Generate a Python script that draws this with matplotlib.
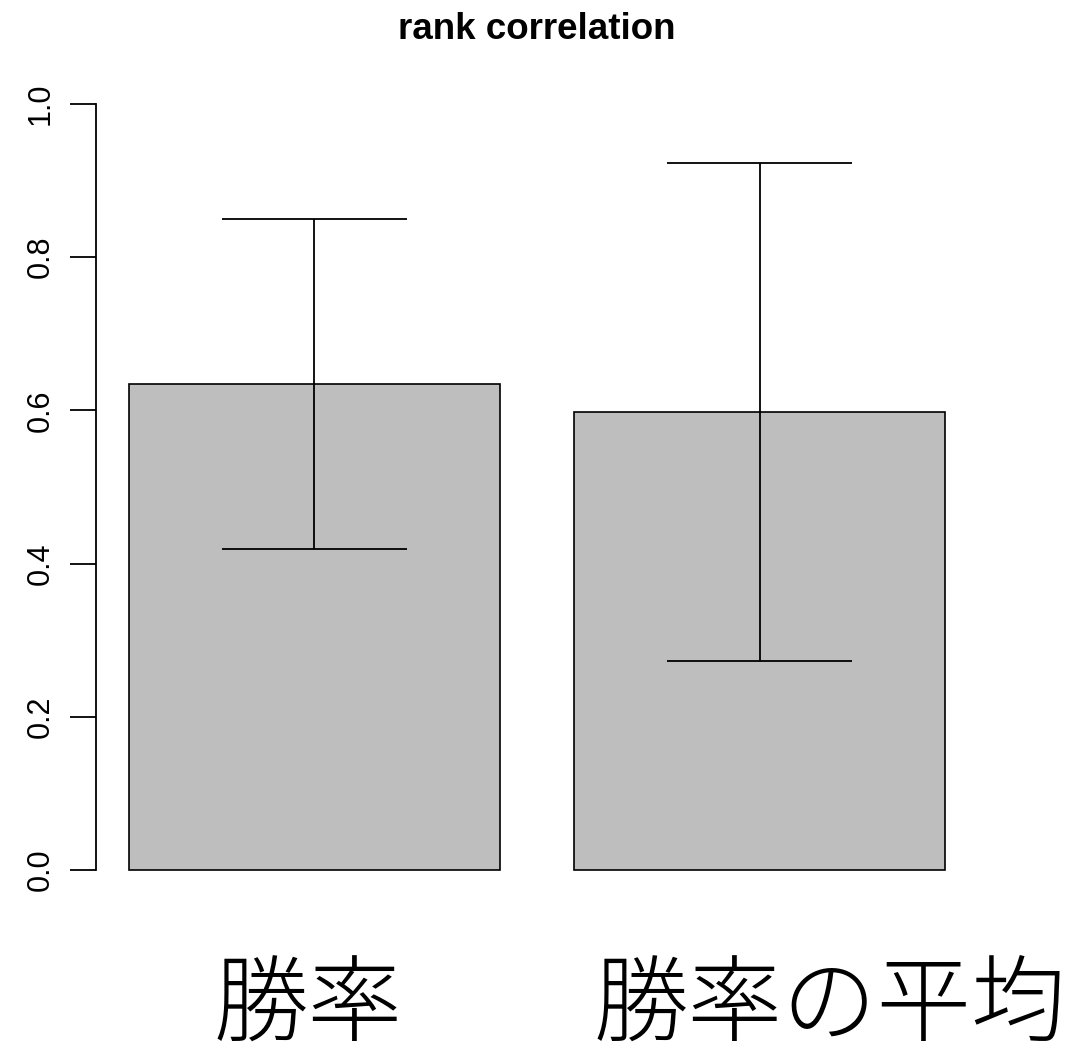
import numpy as np
import matplotlib.pyplot as plt
import matplotlib.transforms as mtransforms

plt.rcParams['font.family'] = ['Liberation Sans', 'Noto Sans CJK JP', 'DejaVu Sans']

labels = ['勝率', '勝率の平均']
means = [0.634, 0.598]
upper = [0.850, 0.923]
lower = [0.419, 0.273]
yticks = [0.0, 0.2, 0.4, 0.6, 0.8, 1.0]

# barplot layout: width 1, space 0.2
centers = np.array([0.7, 1.9])
width = 1.0

fig = plt.figure(figsize=(10.77, 10.48), dpi=100)
ax = fig.add_axes([0.0895, 0.1406, 0.8182, 0.7894])

ax.bar(centers, means, width=width, color='#bebebe', edgecolor='black', linewidth=1.2)
ax.vlines(centers, lower, upper, color='black', linewidth=1.3)
cap = 0.25
ax.hlines(upper, centers - cap, centers + cap, color='black', linewidth=1.3)
ax.hlines(lower, centers - cap, centers + cap, color='black', linewidth=1.3)

ax.set_xlim(0.112, 2.488)
ax.set_ylim(-0.04, 1.04)

for s in ['top', 'right', 'bottom']:
    ax.spines[s].set_visible(False)
ax.spines['left'].set_bounds(0, 1)
ax.spines['left'].set_linewidth(1.3)

ax.set_yticks(yticks)
ax.set_yticklabels(['%.1f' % t for t in yticks], rotation=90, va='center', fontsize=22)
ax.tick_params(axis='y', length=19, width=1.3, pad=10)

ax.set_xticks(centers)
ax.set_xticklabels(labels, fontsize=68, family='Noto Sans CJK JP', fontweight='light')
ax.tick_params(axis='x', length=0, pad=42)

# long label sits a bit to the right of its bar
for lbl, dx in zip(ax.get_xticklabels(), [-0.06, 0.70]):
    lbl.set_transform(lbl.get_transform() + mtransforms.ScaledTranslation(dx, 0, fig.dpi_scale_trans))

ax.set_title('rank correlation', fontsize=26.5, fontweight='bold', pad=24.5)

fig.savefig('out.png', dpi=100)
